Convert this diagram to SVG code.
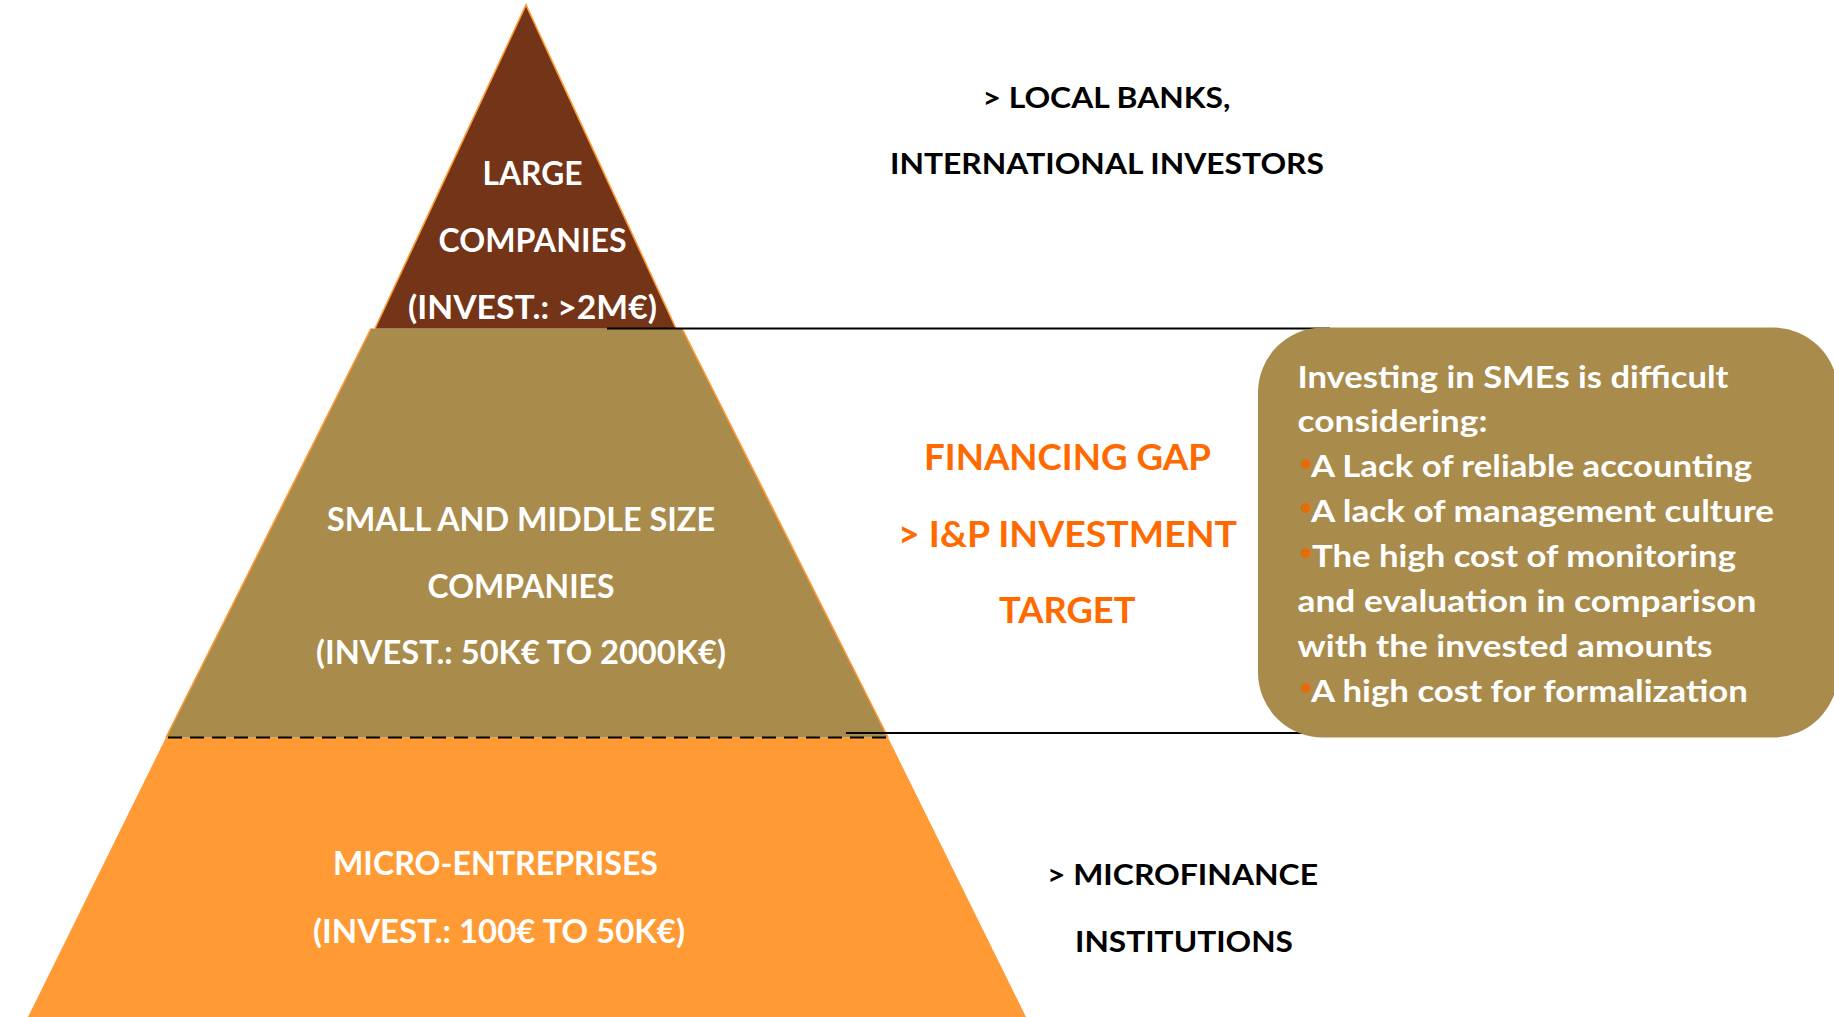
<svg xmlns="http://www.w3.org/2000/svg" width="1834" height="1017" viewBox="0 0 1834 1017">
  <style>
    .lbl { font-family: Lato, "Open Sans", "Liberation Sans", sans-serif; font-weight: 700; }
    .white { fill: #FFFFFF; }
    .black { fill: #000000; }
    .accent { fill: #FF6A00; }
    .bul { fill: #E46C0A; font-family: Lato, "Liberation Sans", sans-serif; font-weight: 700; font-size: 22px; }
    .tier { font-size: 32px; }
    .side { font-size: 29px; }
    .gap { font-size: 36px; }
    .body { font-size: 30px; }
    .edge { stroke: #FF9A35; stroke-width: 1.6; fill: none; }
    .link { stroke: #000000; stroke-width: 2; fill: none; }
    .divider { stroke: #000000; stroke-width: 2.2; stroke-dasharray: 14 8; fill: none; }
  </style>

  <!-- pyramid base: micro-enterprises -->
  <g id="tier-micro">
    <polygon points="166,737.5 888,737.5 1026,1017 28,1017" fill="#FF9A35"/>
    <text class="lbl white tier" x="333" y="875" textLength="325" lengthAdjust="spacingAndGlyphs">MICRO-ENTREPRISES</text>
    <text class="lbl white tier" x="313" y="942.5" textLength="372" lengthAdjust="spacingAndGlyphs">(INVEST.: 100€ TO 50K€)</text>
  </g>

  <!-- middle band: SMEs, orange rim on the slanted sides only -->
  <g id="tier-sme">
    <polygon points="371,328.5 682,328.5 888,737.5 166,737.5" fill="#A98B4C"/>
    <line class="edge" x1="371" y1="328.5" x2="166" y2="737.5"/>
    <line class="edge" x1="682" y1="328.5" x2="888" y2="737.5"/>
    <text class="lbl white tier" x="327" y="530.5" textLength="388" lengthAdjust="spacingAndGlyphs">SMALL AND MIDDLE SIZE</text>
    <text class="lbl white tier" x="427.5" y="597.5" textLength="187" lengthAdjust="spacingAndGlyphs">COMPANIES</text>
    <text class="lbl white tier" x="316" y="664" textLength="410" lengthAdjust="spacingAndGlyphs">(INVEST.: 50K€ TO 2000K€)</text>
  </g>

  <!-- tier separator -->
  <line class="divider" x1="168" y1="737.5" x2="889" y2="737.5"/>

  <!-- apex: large companies -->
  <g id="tier-large">
    <polygon points="526,5 676,328.5 375,328.5" fill="#733418"/>
    <polyline class="edge" points="375,328.5 526,5 676,328.5"/>
    <text class="lbl white tier" x="482.5" y="185" textLength="100" lengthAdjust="spacingAndGlyphs">LARGE</text>
    <text class="lbl white tier" x="438.5" y="252" textLength="188" lengthAdjust="spacingAndGlyphs">COMPANIES</text>
    <text class="lbl white tier" x="408" y="319" textLength="249" lengthAdjust="spacingAndGlyphs">(INVEST.: &gt;2M€)</text>
  </g>

  <!-- bracket lines marking the SME band -->
  <g id="connectors">
    <line class="link" x1="607" y1="328.5" x2="1330" y2="328.5"/>
    <line class="link" x1="846" y1="733" x2="1320" y2="733"/>
  </g>

  <g id="label-banks">
    <text class="lbl black side" x="982.5" y="107.5" textLength="248" lengthAdjust="spacingAndGlyphs">&gt; LOCAL BANKS,</text>
    <text class="lbl black side" x="890" y="173.5" textLength="434" lengthAdjust="spacingAndGlyphs">INTERNATIONAL INVESTORS</text>
  </g>

  <g id="label-gap">
    <text class="lbl accent gap" x="924" y="469.5" textLength="287" lengthAdjust="spacingAndGlyphs">FINANCING GAP</text>
    <text class="lbl accent gap" x="898" y="546.5" textLength="339" lengthAdjust="spacingAndGlyphs">&gt; I&amp;P INVESTMENT</text>
    <text class="lbl accent gap" x="999" y="622.5" textLength="136.5" lengthAdjust="spacingAndGlyphs">TARGET</text>
  </g>

  <g id="label-microfinance">
    <text class="lbl black side" x="1047" y="884.5" textLength="271" lengthAdjust="spacingAndGlyphs">&gt; MICROFINANCE</text>
    <text class="lbl black side" x="1075" y="952" textLength="218" lengthAdjust="spacingAndGlyphs">INSTITUTIONS</text>
  </g>

  <!-- callout listing why SME investment is hard -->
  <g id="box-constraints">
    <rect x="1258" y="327.5" width="580" height="410" rx="65" ry="65" fill="#A98B4C"/>
    <text class="lbl white body" x="1297.5" y="387.5" textLength="431" lengthAdjust="spacingAndGlyphs">Investing in SMEs is difficult</text>
    <text class="lbl white body" x="1297.5" y="432.4" textLength="190" lengthAdjust="spacingAndGlyphs">considering:</text>
    <text class="bul" x="1299.5" y="470.5">•</text>
    <text class="lbl white body" x="1311" y="477.3" textLength="441" lengthAdjust="spacingAndGlyphs">A Lack of reliable accounting</text>
    <text class="bul" x="1299.5" y="515.4">•</text>
    <text class="lbl white body" x="1311" y="522.2" textLength="463" lengthAdjust="spacingAndGlyphs">A lack of management culture</text>
    <text class="bul" x="1299.5" y="560.3">•</text>
    <text class="lbl white body" x="1312" y="567.1" textLength="424" lengthAdjust="spacingAndGlyphs">The high cost of monitoring</text>
    <text class="lbl white body" x="1297.5" y="612" textLength="459" lengthAdjust="spacingAndGlyphs">and evaluation in comparison</text>
    <text class="lbl white body" x="1297.5" y="656.9" textLength="415" lengthAdjust="spacingAndGlyphs">with the invested amounts</text>
    <text class="bul" x="1299.5" y="695">•</text>
    <text class="lbl white body" x="1311" y="701.8" textLength="437" lengthAdjust="spacingAndGlyphs">A high cost for formalization</text>
  </g>
</svg>
